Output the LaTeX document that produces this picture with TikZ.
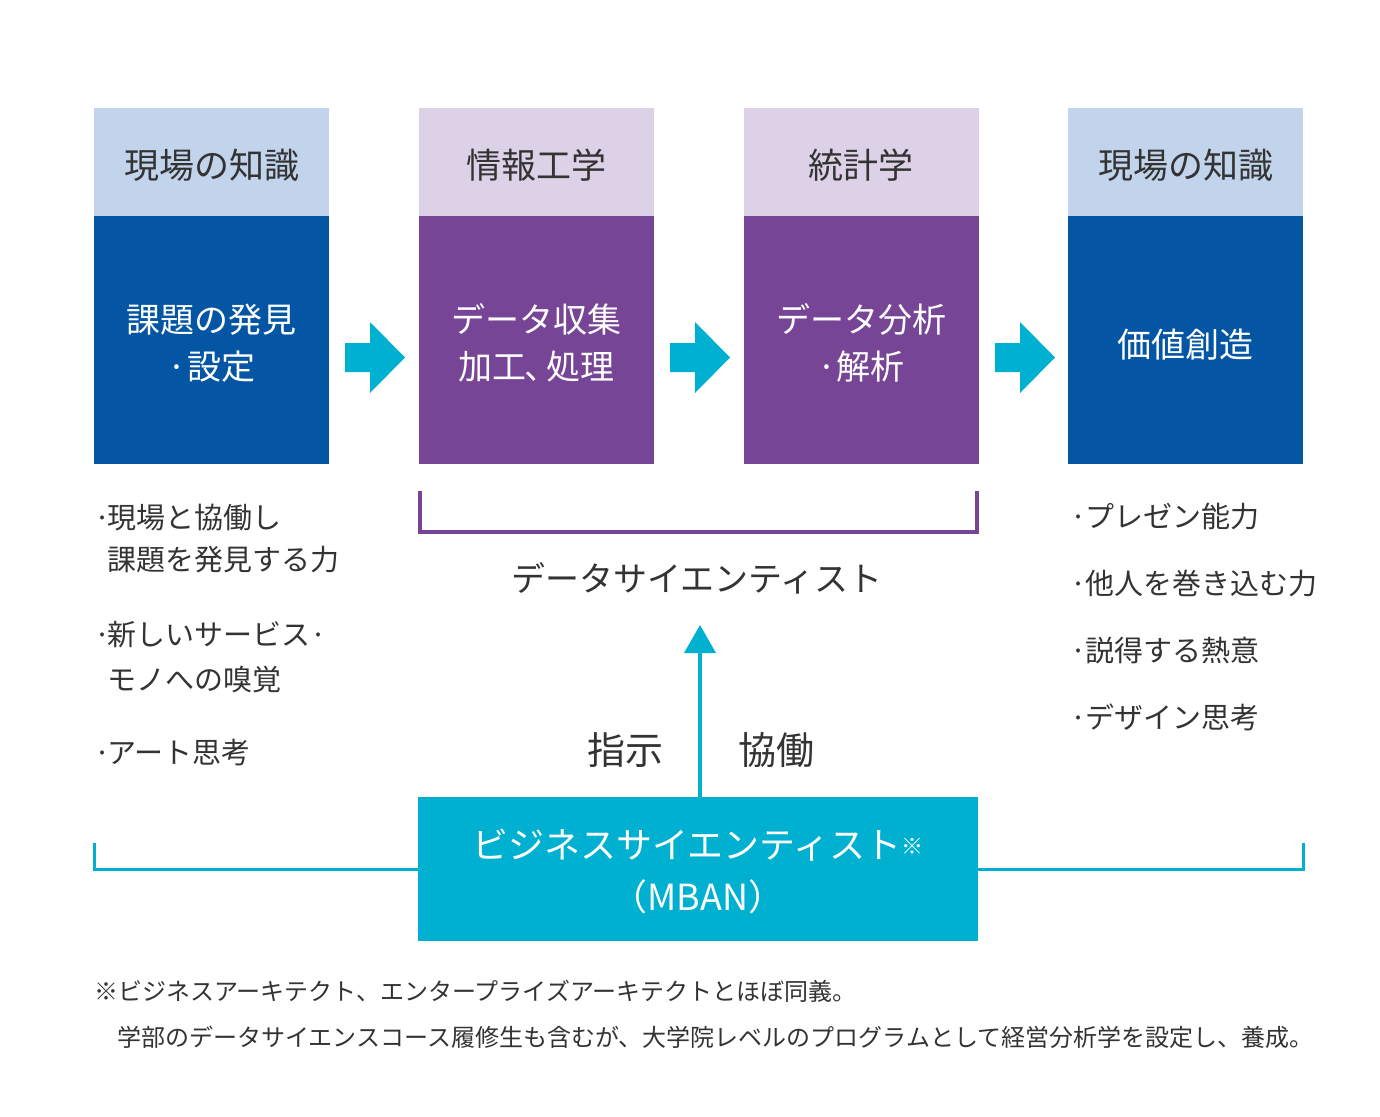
\documentclass[tikz,border=0pt]{standalone}
\usepackage{fontspec}
\setmainfont{Noto Sans CJK JP}
\usetikzlibrary{arrows.meta,calc}
\definecolor{hdblue}{HTML}{C2D3EC}
\definecolor{hdpurple}{HTML}{DDD1E8}
\definecolor{dkblue}{HTML}{0455A4}
\definecolor{dkpurple}{HTML}{774596}
\definecolor{cyanc}{HTML}{00B0D0}
\definecolor{txt}{HTML}{333333}
\tikzset{
  hdr/.style={minimum width=235pt, minimum height=108pt, inner sep=0pt},
  hdrtxt/.style={text=txt, inner sep=0pt, font=\fontsize{35}{40}\selectfont},
  mainbox/.style={minimum width=235pt, minimum height=248pt, inner sep=0pt},
  boxtxt/.style={text=white, align=center, inner sep=0pt, font=\fontsize{34}{47}\selectfont},
  listtxt/.style={anchor=west, text=txt, inner sep=0pt, font=\fontsize{29}{36}\selectfont},
  notetxt/.style={anchor=west, text=txt, inner sep=0pt, font=\fontsize{24}{30}\selectfont},
  blockarrow/.style={fill=cyanc},
  cyanline/.style={draw=cyanc, line width=3pt},
}
\newcommand{\blockarr}[1]{%
  \fill[blockarrow] (#1,343) -- ++(25,0) -- ++(0,-21) -- ++(35,35.5) -- ++(-35,35.5) -- ++(0,-21) -- ++(-25,0) -- cycle;}
\begin{document}
\begin{tikzpicture}[x=1pt,y=-1pt]
\useasboundingbox (0,0) rectangle (1380,1116);
% column boxes
\node[hdr, fill=hdblue]   (h1) at (211.5,162) {};
\node[hdr, fill=hdpurple] (h2) at (536,162)   {};
\node[hdr, fill=hdpurple] (h3) at (861,162)   {};
\node[hdr, fill=hdblue]   (h4) at (1185.5,162){};
\node[hdrtxt] (ht1) at (211.5,165) {現場の知識};
\node[hdrtxt] (ht2) at (536,165)   {情報工学};
\node[hdrtxt] (ht3) at (861,165)   {統計学};
\node[hdrtxt] (ht4) at (1185.5,165){現場の知識};
\node[mainbox, fill=dkblue]   (m1) at (211.5,340) {};
\node[mainbox, fill=dkpurple] (m2) at (536,340)   {};
\node[mainbox, fill=dkpurple] (m3) at (861,340)   {};
\node[mainbox, fill=dkblue]   (m4) at (1185.5,340){};
\node[boxtxt] (t1) at (211.5,343) {課題の発見\\·設定};
\node[boxtxt] (t2) at (536,343)   {データ収集\\加工\hspace{-2pt}、\hspace{-12pt}処理};
\node[boxtxt] (t3) at (861,343)   {データ分析\\·解析};
\node[boxtxt] (t4) at (1185.5,345){価値創造};
% block arrows
\blockarr{345}
\blockarr{670}
\blockarr{995}
% data scientist bracket
\draw[draw=dkpurple, line width=4pt]
  ($(m2.south west)+(2,27)$) -- ($(m2.south west)+(2,68)$) -| ($(m3.south east)+(-2,27)$);
\node[text=txt, inner sep=0pt, font=\fontsize{34}{40}\selectfont] (ds) at (697,578) {データサイエンティスト};
% business scientist box
\node[fill=cyanc, minimum width=560pt, minimum height=144pt, inner sep=0pt] (cb) at (698,869) {};
\node[text=white, align=center, inner sep=0pt, font=\fontsize{36}{52}\selectfont] (cbt) at (698,871)
  {ビジネスサイエンティスト{\fontsize{22}{22}\selectfont\raisebox{4pt}{※}}\\（MBAN）};
\coordinate (tip) at (700,625);
\draw[draw=cyanc, line width=4pt, -{Triangle[width=31pt,length=28pt]}] (cb.north -| tip) -- (tip);
\node[text=txt, inner sep=0pt, font=\fontsize{38}{40}\selectfont] (sj) at (625,750) {指示};
\node[text=txt, inner sep=0pt, font=\fontsize{38}{40}\selectfont] (kd) at (776,750) {協働};
% side lines
\coordinate (lcor) at (94,843);
\coordinate (rcor) at (1303,843);
\draw[cyanline] (cb.west) -- (cb.west -| lcor) -- (lcor);
\draw[cyanline] (cb.east) -- (cb.east -| rcor) -- (rcor);
% left list
\node[listtxt] (l1) at (94,518)  {\makebox[13pt][l]{·}現場と協働し};
\node[listtxt] (l2) at (107,560) {課題を発見する力};
\node[listtxt] (l3) at (94,635)  {\makebox[13pt][l]{·}新しいサービス·};
\node[listtxt] (l4) at (107,679) {モノへの嗅覚};
\node[listtxt] (l5) at (94,753)  {\makebox[13pt][l]{·}アート思考};
% right list
\node[listtxt] (r1) at (1070,517) {\makebox[15pt][l]{·}プレゼン能力};
\node[listtxt] (r2) at (1070,584) {\makebox[15pt][l]{·}他人を巻き込む力};
\node[listtxt] (r3) at (1070,651) {\makebox[15pt][l]{·}説得する熱意};
\node[listtxt] (r4) at (1070,717) {\makebox[15pt][l]{·}デザイン思考};
% footnote
\node[notetxt] (n1) at (94,991)  {※ビジネスアーキテクト、エンタープライズアーキテクトとほぼ同義。};
\node[notetxt] (n2) at (117,1037) {学部のデータサイエンスコース履修生も含むが、大学院レベルのプログラムとして経営分析学を設定し、養成。};
\end{tikzpicture}
\end{document}
